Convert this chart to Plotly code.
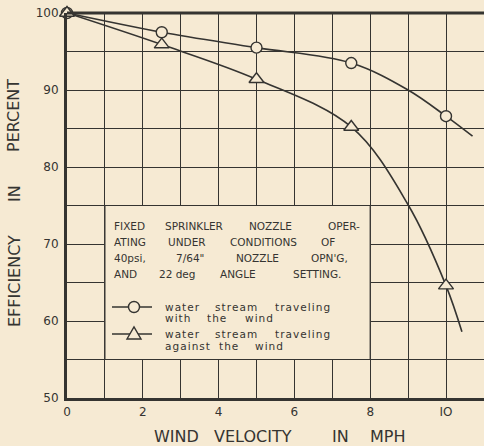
import plotly.graph_objects as go

# ---- data ----
wind_mph = [0, 2.5, 5, 7.5, 10]
eff_with_wind = [100, 97.5, 95.5, 93.5, 86.6]
eff_against_wind = [100, 95.9, 91.4, 85.2, 64.6]

# smooth fitted curves
curve_with_x = [0, 2.5, 5, 7.5, 9, 10, 10.7]
curve_with_y = [100, 97.5, 95.5, 93.5, 90.0, 86.6, 84.0]
curve_against_x = [0, 2.5, 5, 7.5, 9, 10, 10.42]
curve_against_y = [100, 95.9, 91.4, 85.2, 75.1, 64.6, 58.6]

x_ticks = [0, 2, 4, 6, 8, 10]
x_ticklabels = ["0", "2", "4", "6", "8", "IO"]
y_ticks = [50, 60, 70, 80, 90, 100]

note_text = [
    ["FIXED", "SPRINKLER", "NOZZLE", "OPER-"],
    ["ATING", "UNDER", "CONDITIONS", "OF"],
    ["40psi,", "7/64\"", "NOZZLE", "OPN'G,"],
    ["AND", "22 deg", "ANGLE", "SETTING."],
]
legend_text = [
    [["water", "stream", "traveling"], ["with", "the", "wind"]],
    [["water", "stream", "traveling"], ["against", "the", "wind"]],
]
x_title = ["WIND", "VELOCITY", "IN", "MPH"]
y_title = ["EFFICIENCY", "IN", "PERCENT"]

BG = "#f6ead3"
INK = "#353431"
FONT = "DejaVu Sans"

W, H = 484, 446
L, R, T, B = 67, 0, 13, 48
pw = W - L - R
ph = H - T - B


def px(xpix):
    return (xpix - L) / pw


def py(ypix):
    return (H - B - ypix) / ph


def spread(s):
    return "\u200a".join(list(s))


fig = go.Figure()

fig.add_trace(go.Scatter(x=curve_with_x, y=curve_with_y, mode="lines",
                         line=dict(color=INK, width=1.6, shape="spline"),
                         showlegend=False, hoverinfo="skip", cliponaxis=False))
fig.add_trace(go.Scatter(x=curve_against_x, y=curve_against_y, mode="lines",
                         line=dict(color=INK, width=1.6, shape="spline"),
                         showlegend=False, hoverinfo="skip", cliponaxis=False))
fig.add_trace(go.Scatter(x=wind_mph, y=eff_with_wind, mode="markers",
                         marker=dict(symbol="circle", size=11, color=BG,
                                     line=dict(color=INK, width=1.4)),
                         showlegend=False, cliponaxis=False))
fig.add_trace(go.Scatter(x=wind_mph, y=eff_against_wind, mode="markers",
                         marker=dict(symbol="triangle-up", size=13, color=BG,
                                     line=dict(color=INK, width=1.4)),
                         showlegend=False, cliponaxis=False))

# note box
fig.add_shape(type="rect", xref="x", yref="y", x0=1, x1=8, y0=55, y1=75,
              fillcolor=BG, line=dict(color=INK, width=1.2), layer="between")
# thick top border
fig.add_shape(type="line", xref="paper", yref="paper", x0=0, x1=1, y0=1, y1=1,
              line=dict(color=INK, width=3))

# note text, justified word by word: (left of first, centres of middle, right of last)
note_layout = [
    (226, [112, 194, 270, 362]),
    (242, [112, 187, 263, 337]),
    (258, [112, 190, 257, 350]),
    (274, [112, 177, 238, 343]),
]
for words, (yp, xs) in zip(note_text, note_layout):
    for i, (w, xp) in enumerate(zip(words, xs)):
        anchor = "left" if i == 0 else ("right" if i == len(words) - 1 else "center")
        fig.add_annotation(xref="paper", yref="paper", x=px(xp), y=py(yp),
                           xanchor=anchor, yanchor="middle", showarrow=False,
                           text=w, font=dict(family=FONT, size=10.5, color=INK))

# legend (hand-drawn key inside the box)
leg_rows = [(307, 318), (334, 346)]
leg_word_x = [[[163, 213, 273], [163, 205, 243]],
              [[163, 213, 273], [163, 217, 253]]]
for k, ((y1p, y2p), lines, xs) in enumerate(zip(leg_rows, legend_text, leg_word_x)):
    fig.add_shape(type="line", xref="paper", yref="paper",
                  x0=px(112), x1=px(152), y0=py(y1p), y1=py(y1p),
                  line=dict(color=INK, width=1.4))
    if k == 0:
        fig.add_shape(type="circle", xref="paper", yref="paper",
                      x0=px(128.5), x1=px(139.5), y0=py(y1p + 5.5), y1=py(y1p - 5.5),
                      fillcolor=BG, line=dict(color=INK, width=1.4))
    else:
        fig.add_shape(type="path", xref="paper", yref="paper",
                      path=f"M {px(127)},{py(y1p + 5)} L {px(141)},{py(y1p + 5)} "
                           f"L {px(134)},{py(y1p - 7)} Z",
                      fillcolor=BG, line=dict(color=INK, width=1.4))
    for words, xrow, yp in zip(lines, xs, (y1p, y2p)):
        for w, xp in zip(words, xrow):
            fig.add_annotation(xref="paper", yref="paper", x=px(xp), y=py(yp),
                               xanchor="left", yanchor="middle", showarrow=False,
                               text=spread(w), font=dict(family=FONT, size=10.5, color=INK))

# axis titles, word by word
for w, xp in zip(x_title, [152, 212, 330, 368]):
    fig.add_annotation(xref="paper", yref="paper", x=px(xp), y=py(437),
                       xanchor="left", yanchor="middle", showarrow=False,
                       text=w, font=dict(family=FONT, size=16, color=INK))
for w, yp in zip(y_title, [281, 194, 116]):
    fig.add_annotation(xref="paper", yref="paper", x=px(14), y=py(yp),
                       xanchor="center", yanchor="middle", showarrow=False, textangle=-90,
                       text=w, font=dict(family=FONT, size=16, color=INK))

fig.update_xaxes(range=[0, pw / 37.9], tickvals=x_ticks, ticktext=x_ticklabels,
                 showgrid=True, gridcolor=INK, gridwidth=1,
                 minor=dict(dtick=1, tick0=0, showgrid=True, gridcolor=INK, gridwidth=1),
                 showline=True, linecolor=INK, linewidth=3, zeroline=False,
                 ticks="", ticklabelstandoff=1,
                 tickfont=dict(family=FONT, size=12, color=INK), fixedrange=True)
fig.update_yaxes(range=[50, 100], tickvals=y_ticks,
                 showgrid=True, gridcolor=INK, gridwidth=1,
                 minor=dict(dtick=5, tick0=50, showgrid=True, gridcolor=INK, gridwidth=1),
                 showline=True, linecolor=INK, linewidth=3, zeroline=False,
                 ticks="", ticklabelstandoff=3,
                 tickfont=dict(family=FONT, size=12, color=INK), fixedrange=True)

fig.update_layout(
    width=W, height=H,
    margin=dict(l=L, r=R, t=T, b=B, pad=0),
    paper_bgcolor=BG, plot_bgcolor=BG,
    font=dict(family=FONT, color=INK),
    showlegend=False,
    hovermode=False,
)

fig.write_html("out.html",
               config={"displayModeBar": False, "staticPlot": True},
               post_script="document.body.style.margin='0px';"
                           "document.body.style.background='" + BG + "';"
                           "document.body.style.overflow='hidden';")
